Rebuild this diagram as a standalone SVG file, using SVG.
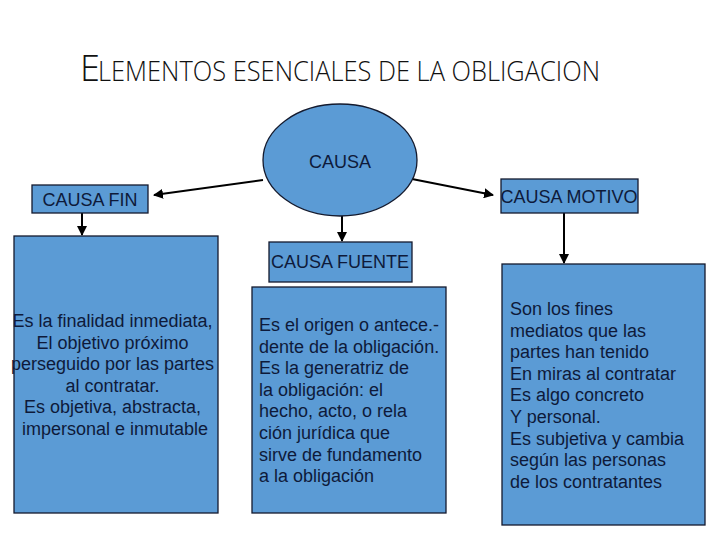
<svg xmlns="http://www.w3.org/2000/svg" width="720" height="540" viewBox="0 0 720 540">
<defs>
<style>
.box{fill:#5b9bd5;stroke:#141a2e;stroke-width:1.3}
.lbl{font-family:"Liberation Sans",Arial,sans-serif;font-size:18px;fill:#0e1a3a}
.ttl{font-family:"Open Sans","Liberation Sans",sans-serif;font-weight:300;fill:#111}
.con{stroke:#000;stroke-width:2;fill:none;marker-end:url(#ah)}
</style>
<marker id="ah" viewBox="0 0 10 10" refX="9" refY="5" markerWidth="5" markerHeight="5" orient="auto" markerUnits="strokeWidth">
<path d="M0,0 L10,5 L0,10 z" fill="#000"/>
</marker>
</defs>
<rect width="720" height="540" fill="#fff"/>
<g id="title">
<text class="ttl" x="80" y="81" font-size="36">E</text>
<text class="ttl" x="98" y="81" font-size="28" textLength="502" lengthAdjust="spacingAndGlyphs">LEMENTOS ESENCIALES DE LA OBLIGACION</text>
</g>
<g id="connectors">
<line class="con" x1="263" y1="180" x2="154" y2="195"/>
<line class="con" x1="412" y1="179" x2="493" y2="195"/>
<line class="con" x1="342" y1="216" x2="342" y2="241"/>
<line class="con" x1="82" y1="213" x2="82" y2="235"/>
<line class="con" x1="564" y1="213" x2="564" y2="263"/>
</g>
<g id="causa">
<ellipse class="box" cx="340" cy="160" rx="77" ry="56"/>
<text class="lbl" x="340" y="168" text-anchor="middle">CAUSA</text>
</g>
<g id="causa-fin">
<rect class="box" x="32" y="185" width="116" height="28"/>
<text class="lbl" x="90" y="206" text-anchor="middle">CAUSA FIN</text>
</g>
<g id="causa-motivo">
<rect class="box" x="501" y="179" width="137" height="34"/>
<text class="lbl" x="569" y="203" text-anchor="middle">CAUSA MOTIVO</text>
</g>
<g id="causa-fuente">
<rect class="box" x="269" y="242" width="143" height="40"/>
<text class="lbl" x="340" y="268" text-anchor="middle">CAUSA FUENTE</text>
</g>
<g id="desc-fin">
<rect class="box" x="14" y="236" width="204" height="277"/>
<text class="lbl" text-anchor="middle">
<tspan x="115" y="327">Es la finalidad inmediata,</tspan>
<tspan x="115" y="348.5">El objetivo próximo</tspan>
<tspan x="115" y="370">perseguido por las partes</tspan>
<tspan x="115" y="391.5">al contratar.</tspan>
<tspan x="115" y="413">Es objetiva, abstracta,</tspan>
<tspan x="115" y="434.5">impersonal e inmutable</tspan>
</text>
</g>
<g id="desc-fuente">
<rect class="box" x="252" y="287" width="194" height="226"/>
<text class="lbl">
<tspan x="259" y="331">Es el origen o antece.-</tspan>
<tspan x="259" y="352.6">dente de la obligación.</tspan>
<tspan x="259" y="374.2">Es la generatriz de</tspan>
<tspan x="259" y="395.8">la obligación: el</tspan>
<tspan x="259" y="417.4">hecho, acto, o rela</tspan>
<tspan x="259" y="439">ción jurídica que</tspan>
<tspan x="259" y="460.6">sirve de fundamento</tspan>
<tspan x="259" y="482.2">a la obligación</tspan>
</text>
</g>
<g id="desc-motivo">
<rect class="box" x="502" y="264" width="203" height="261"/>
<text class="lbl">
<tspan x="510" y="315">Son los fines</tspan>
<tspan x="510" y="336.6">mediatos que las</tspan>
<tspan x="510" y="358.2">partes han tenido</tspan>
<tspan x="510" y="379.8">En miras al contratar</tspan>
<tspan x="510" y="401.4">Es algo concreto</tspan>
<tspan x="510" y="423">Y personal.</tspan>
<tspan x="510" y="444.6">Es subjetiva y cambia</tspan>
<tspan x="510" y="466.2">según las personas</tspan>
<tspan x="510" y="487.8">de los contratantes</tspan>
</text>
</g>
</svg>
